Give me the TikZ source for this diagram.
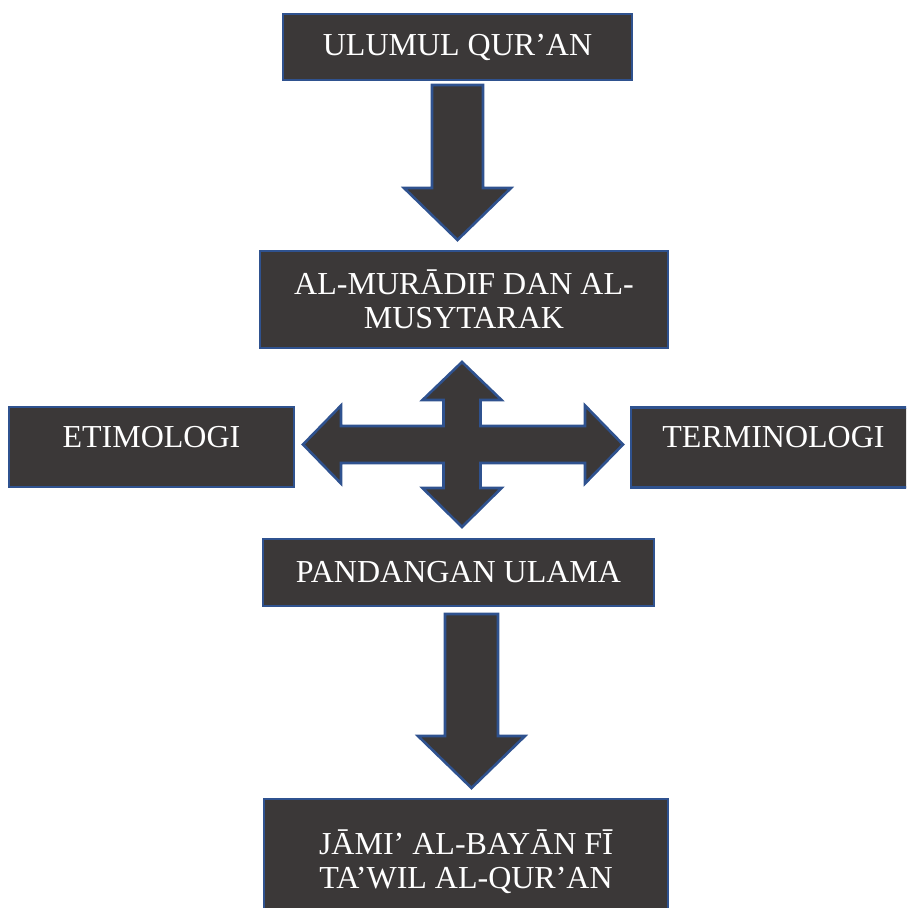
\documentclass[tikz,border=0pt]{standalone}
\usepackage{fontspec}
\setmainfont{Liberation Serif}
\definecolor{boxfill}{HTML}{3B3838}
\definecolor{boxline}{HTML}{2F528F}
\tikzset{
  box/.style={draw=boxline, fill=boxfill, line width=1.3pt, text=white, align=center,
              inner sep=0pt, font=\fontsize{16}{17}\selectfont},
  sidebox/.style={box, minimum width=142.5pt, text height=20pt, text depth=20pt},
  blockarrow/.style={draw=boxline, fill=boxfill, line width=1.3pt, line join=miter}
}

\begin{document}
\begin{tikzpicture}[x=0.5pt, y=-0.5pt]
  \useasboundingbox (0,0) rectangle (906,908);
  \clip (0,0) rectangle (906,908);
  % boxes
  \node[box, minimum width=174.5pt, minimum height=33pt] (ulum) at (457.5,47) {ULUMUL QUR’AN};
  \node[box, minimum width=204pt, minimum height=48.5pt] (murad) at (464,299.5)
       {AL-MURĀDIF DAN AL-\\MUSYTARAK};
  \node[sidebox] (etim) at (151.5,447) {ETIMOLOGI};
  \node[sidebox] (term) at (773.5,447.5) {TERMINOLOGI};
  \node[box, minimum width=195.5pt, minimum height=33.5pt] (pand) at (458.5,572.5) {PANDANGAN ULAMA};
  \node[box, minimum width=202pt, minimum height=63pt] (jami) at (466,862)
       {JĀMI’ AL-BAYĀN FĪ\\TA’WIL AL-QUR’AN};
  % block arrows
  \coordinate (a1) at (457.5,85);
  \coordinate (hub) at (462,444.5);
  \coordinate (a2) at (471.5,614);
  \draw[blockarrow, shift={(a1)}] (-25.5,0) -- (-25.5,103) -- (-53.5,103) -- (0,155)
       -- (53.5,103) -- (25.5,103) -- (25.5,0) -- cycle;
  \draw[blockarrow, shift={(hub)}] (0,-82.5) -- (39.5,-44.5) -- (18.5,-44.5) -- (18.5,-18.5)
       -- (123,-18.5) -- (123,-39) -- (161,0) -- (123,39) -- (123,18.5) -- (18.5,18.5)
       -- (18.5,43.5) -- (39.5,43.5) -- (0,82.5) -- (-39.5,43.5) -- (-18.5,43.5)
       -- (-18.5,18.5) -- (-121,18.5) -- (-121,39) -- (-159,0) -- (-121,-39)
       -- (-121,-18.5) -- (-18.5,-18.5) -- (-18.5,-44.5) -- (-39.5,-44.5) -- cycle;
  \draw[blockarrow, shift={(a2)}] (-26.5,0) -- (-26.5,122) -- (-53.5,122) -- (0,174)
       -- (53.5,122) -- (26.5,122) -- (26.5,0) -- cycle;
\end{tikzpicture}
\end{document}
